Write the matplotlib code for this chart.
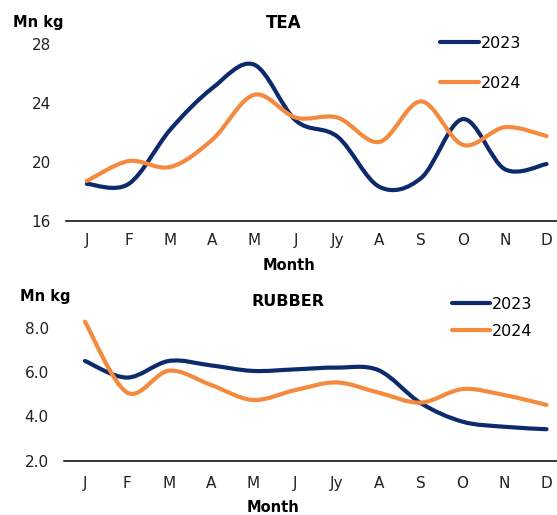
import numpy as np
import matplotlib
matplotlib.use('Agg')
import matplotlib.pyplot as plt
from matplotlib.path import Path
from matplotlib.patches import PathPatch
from matplotlib.lines import Line2D

months = ["J", "F", "M", "A", "M", "J", "Jy", "A", "S", "O", "N", "D"]
years = ["2023", "2024"]

tea_2023 = [18.5, 18.5, 22.2, 25.0, 26.6, 22.8, 21.7, 18.3, 18.9, 22.9, 19.5, 19.85]
tea_2024 = [18.7, 20.05, 19.65, 21.5, 24.55, 23.0, 23.0, 21.35, 24.1, 21.15, 22.35, 21.75]
tea_ticks = [16, 20, 24, 28]

rubber_2023 = [6.5, 5.75, 6.5, 6.3, 6.05, 6.12, 6.2, 6.08, 4.6, 3.76, 3.53, 3.42]
rubber_2024 = [8.27, 5.08, 6.06, 5.42, 4.74, 5.18, 5.53, 5.07, 4.62, 5.23, 4.96, 4.52]
rubber_ticks = [2.0, 4.0, 6.0, 8.0]

navy = "#0c2a6c"
orange = "#f38a3d"
W, H = 557, 515


def smooth_path(ys):
    # excel style smoothed line: catmull-rom segments as cubic beziers
    pts = np.column_stack([np.arange(len(ys)), ys]).astype(float)
    n = len(pts)
    verts = [pts[0]]
    codes = [Path.MOVETO]
    for i in range(n - 1):
        p0 = pts[max(i - 1, 0)]
        p1 = pts[i]
        p2 = pts[i + 1]
        p3 = pts[min(i + 2, n - 1)]
        verts += [p1 + (p2 - p0) / 6, p2 - (p3 - p1) / 6, p2]
        codes += [Path.CURVE4] * 3
    return Path(verts, codes)


def panel(rect, series, ticks, fmt, ylim, tick_pad):
    ax = fig.add_axes(rect)
    for vals, col in zip(series, [navy, orange]):
        ax.add_patch(PathPatch(smooth_path(vals), fill=False, edgecolor=col, lw=3.0,
                               capstyle='round', joinstyle='round', clip_on=False))
    ax.set_xlim(-0.5, 11.25)
    ax.set_ylim(*ylim)
    ax.set_xticks(range(len(months)))
    ax.set_xticklabels(months)
    ax.set_yticks(ticks)
    ax.set_yticklabels([fmt.format(t) for t in ticks])
    for s in ["top", "right", "left"]:
        ax.spines[s].set_visible(False)
    ax.spines["bottom"].set_color("black")
    ax.spines["bottom"].set_linewidth(1.1)
    ax.tick_params(axis='x', length=0, pad=tick_pad, labelsize=11, labelcolor="#222222")
    ax.tick_params(axis='y', length=0, pad=11, labelsize=11, labelcolor="#222222")
    return ax


def ftext(x, y, s, **kw):
    fig.text(x / W, 1 - y / H, s, **kw)


fig = plt.figure(figsize=(5.57, 5.15), dpi=100)

ax1 = panel([66 / W, 1 - 220.7 / H, (W - 66) / W, (220.7 - 44) / H],
            [tea_2023, tea_2024], tea_ticks, "{:.0f}", (16, 28), 9)
ax2 = panel([64 / W, 1 - 460.7 / H, (W - 64) / W, (460.7 - 327.7) / H],
            [rubber_2023, rubber_2024], rubber_ticks, "{:.1f}", (2, 8), 11)

# titles, units, axis names
ftext(284, 23, "TEA", fontsize=12, fontweight='bold', ha='center', va='center')
ftext(288, 302, "RUBBER", fontsize=11.5, fontweight='bold', ha='center', va='center')
ftext(13, 23, "Mn kg", fontsize=10.5, fontweight='bold', ha='left', va='center')
ftext(20, 297, "Mn kg", fontsize=10.5, fontweight='bold', ha='left', va='center')
ftext(289, 265, "Month", fontsize=10.5, fontweight='bold', ha='center', va='center')
ftext(273, 508, "Month", fontsize=10.5, fontweight='bold', ha='center', va='center')

handles = [Line2D([0], [0], color=c, lw=3.0, solid_capstyle='round') for c in [navy, orange]]
ax1.legend(handles, years, loc='upper left', bbox_to_anchor=(440 / W, 1 - 36 / H),
           bbox_transform=fig.transFigure, frameon=False, fontsize=11.5, borderpad=0,
           borderaxespad=0, handlelength=2.45, handletextpad=0.12, labelspacing=1.55)
ax2.legend(handles, years, loc='upper left', bbox_to_anchor=(452 / W, 1 - 297 / H),
           bbox_transform=fig.transFigure, frameon=False, fontsize=11.5, borderpad=0,
           borderaxespad=0, handlelength=2.35, handletextpad=0.12, labelspacing=0.75)

plt.savefig("out.png", dpi=100)
